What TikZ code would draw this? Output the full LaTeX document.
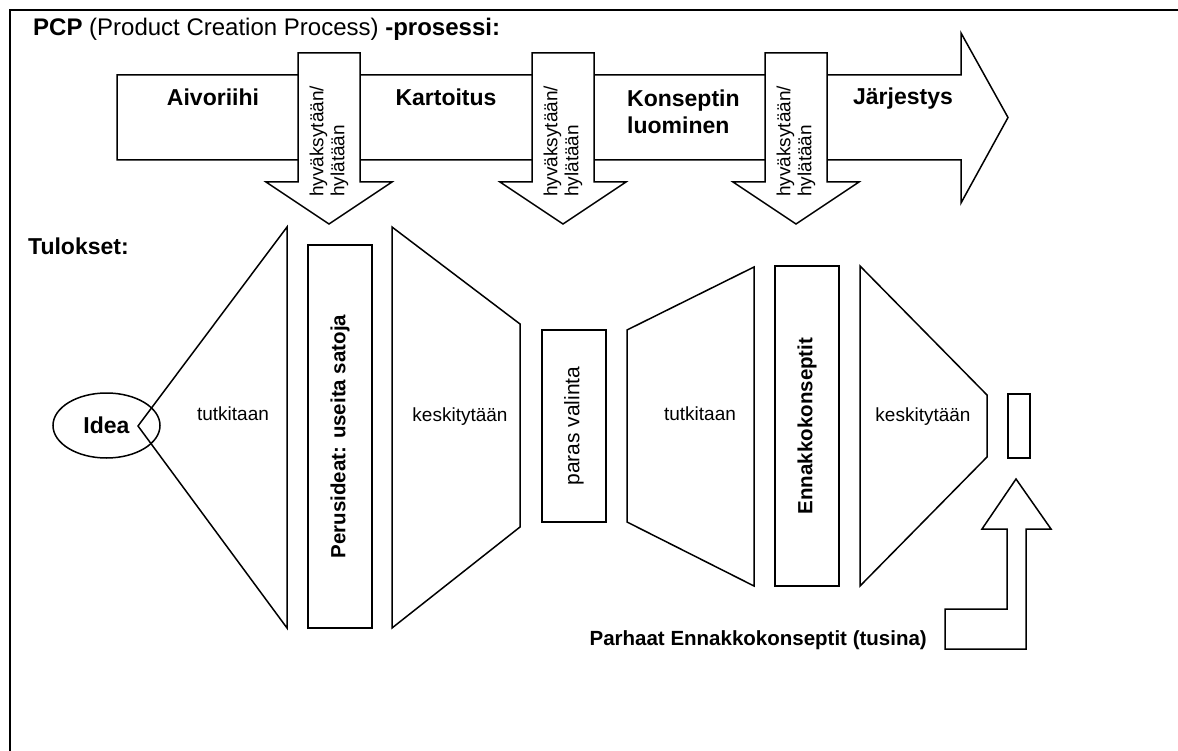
\documentclass[tikz,border=0pt]{standalone}
\usepackage{fontspec}
\setmainfont{Liberation Sans}
\usetikzlibrary{shapes.geometric}

% text sizes
\newcommand\headfont{\fontsize{23}{27}\selectfont\bfseries}
\newcommand\sidefont{\fontsize{20.5}{24}\selectfont\bfseries}
\newcommand\notefont{\fontsize{19}{21}\selectfont}
\newcommand\pickfont{\fontsize{21}{24}\selectfont}

\begin{document}
\begin{tikzpicture}[x=1pt,y=-1pt,line join=miter,
  shapeline/.style={draw=black,line width=1.5pt},
  bar/.style={shapeline,rotate=90,inner sep=0pt,minimum height=64pt},
  gate/.style={rotate=90,anchor=west,align=left,inner sep=0pt,font=\notefont},
  stage/.style={anchor=base,inner sep=0pt,font=\headfont},
  step label/.style={anchor=base,inner sep=0pt,font=\notefont}]
\useasboundingbox (0,0) rectangle (1178,751);

% frame
\draw[line width=2.5pt] (1178,10) -- (10,10) -- (10,751);

% heading
\node[anchor=base west,inner sep=0pt,font=\fontsize{24}{28}\selectfont] (title) at (33,36)
  {\textbf{PCP} (Product Creation Process) \textbf{-prosessi:}};

% main process arrow
\draw[shapeline,fill=white] (117,75) -- (961,75) -- (961,33) -- (1008,117.5)
  -- (961,203) -- (961,160) -- (117,160) -- cycle;

% phase names
\node[stage] (aivo) at (213,106) {Aivoriihi};
\node[stage] (kart) at (446,106) {Kartoitus};
\node[anchor=north west,align=left,inner sep=0pt,font=\headfont] (kons) at (627,89.4)
  {Konseptin\\luominen};
\node[stage] (jarj) at (903,105) {Järjestys};

% decision gates
\foreach \c/\n in {329/1,563/2,796/3}{
  \draw[shapeline,fill=white] (\c-31,53) -- (\c+31,53) -- (\c+31,182) -- (\c+63,182)
    -- (\c,224) -- (\c-63,182) -- (\c-31,182) -- cycle;
  \node[gate] (gate\n) at (\c,197) {hyväksytään/\\hylätään};
}

% results
\node[anchor=base west,inner sep=0pt,font=\headfont] (tulokset) at (28,255) {Tulokset:};

\node[shapeline,ellipse,minimum width=107pt,minimum height=65pt,inner sep=0pt,
  font=\headfont] (idea) at (106.5,425.5) {Idea};

\draw[shapeline] (138,426) -- (287,227) -- (287,628) -- cycle;
\node[step label] (tut1) at (233,420) {tutkitaan};

\node[bar,minimum width=383pt,font=\sidefont] (perus) at (340,436.5) {Perusideat: useita satoja};

\draw[shapeline] (392,227) -- (520,324) -- (520,527) -- (392,628) -- cycle;
\node[step label] (kes1) at (460,421) {keskitytään};

\node[bar,minimum width=192pt,font=\pickfont] (paras) at (574,426) {paras valinta};

\draw[shapeline] (627,330) -- (754,267) -- (754,586) -- (627,522) -- cycle;
\node[step label] (tut2) at (700,420) {tutkitaan};

\node[bar,minimum width=320pt,font=\sidefont] (ennakko) at (807,426) {Ennakkokonseptit};

\draw[shapeline] (860,266) -- (987,395) -- (987,457) -- (860,586) -- cycle;
\node[step label] (kes2) at (923,421) {keskitytään};

\node[shapeline,minimum width=22pt,minimum height=64pt,inner sep=0pt] (paras2) at (1019,426) {};

% bent arrow to the best concepts
\draw[shapeline,fill=white] (945,609) -- (1007,609) -- (1007,529) -- (982,529) -- (1016,479)
  -- (1051,529) -- (1026,529) -- (1026,649) -- (945,649) -- cycle;
\node[anchor=base east,inner sep=0pt,font=\sidefont] (parhaat) at (927,645)
  {Parhaat Ennakkokonseptit (tusina)};
\end{tikzpicture}
\end{document}
